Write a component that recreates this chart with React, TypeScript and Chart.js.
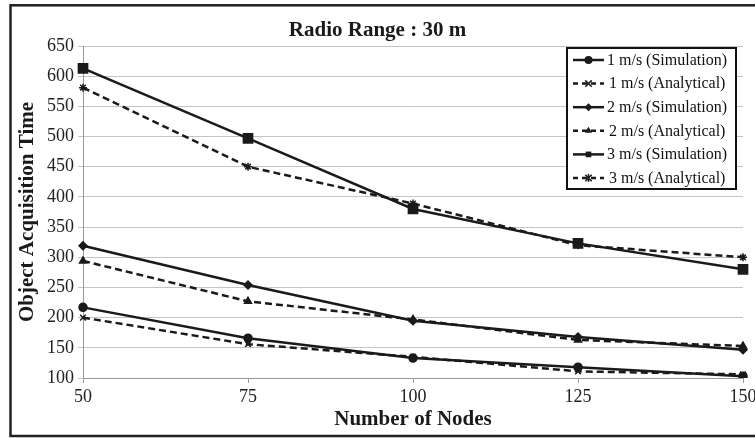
import React, { useEffect, useRef } from 'react';
import { Chart, registerables } from 'chart.js';

Chart.register(...registerables);

// ---- data ----
const nodeCounts = ['50', '75', '100', '125', '150'];
const sim1 = [217, 166, 133, 118, 103];
const ana1 = [200, 156, 135, 111, 106];
const sim2 = [319, 254, 195, 168, 147];
const ana2 = [294, 227, 197, 163, 153];
const sim3 = [613, 497, 380, 323, 280];
const ana3 = [581, 450, 389, 320, 300];
const seriesLabels = [
  '1 m/s (Simulation)',
  '1 m/s (Analytical)',
  '2 m/s (Simulation)',
  '2 m/s (Analytical)',
  '3 m/s (Simulation)',
  '3 m/s (Analytical)',
];
const yMin = 100;
const yMax = 650;
const yStep = 50;
const chartTitle = 'Radio Range : 30 m';
const xTitle = 'Number of Nodes';
const yTitle = 'Object Acquisition Time';

const FONT = "'Liberation Serif', 'Times New Roman', serif";
const INK = '#1a1a1a';

function drawMarker(ctx: CanvasRenderingContext2D, style: string, x: number, y: number, r: number) {
  ctx.save();
  ctx.fillStyle = INK;
  ctx.strokeStyle = INK;
  ctx.lineWidth = 1.5;
  ctx.setLineDash([]);
  ctx.beginPath();
  switch (style) {
    case 'circle':
      ctx.arc(x, y, r, 0, Math.PI * 2);
      ctx.fill();
      break;
    case 'rect': {
      const s = r * Math.SQRT1_2;
      ctx.fillRect(x - s, y - s, 2 * s, 2 * s);
      break;
    }
    case 'rectRot':
      ctx.moveTo(x, y - r);
      ctx.lineTo(x + r, y);
      ctx.lineTo(x, y + r);
      ctx.lineTo(x - r, y);
      ctx.closePath();
      ctx.fill();
      break;
    case 'triangle': {
      const h = r * 1.5;
      ctx.moveTo(x, y - r);
      ctx.lineTo(x + h * 0.577, y + r * 0.5);
      ctx.lineTo(x - h * 0.577, y + r * 0.5);
      ctx.closePath();
      ctx.fill();
      break;
    }
    case 'crossRot': {
      const d = r * 0.8;
      ctx.moveTo(x - d, y - d);
      ctx.lineTo(x + d, y + d);
      ctx.moveTo(x + d, y - d);
      ctx.lineTo(x - d, y + d);
      ctx.stroke();
      break;
    }
    case 'star': {
      const d = r * 0.8;
      ctx.moveTo(x - d, y - d);
      ctx.lineTo(x + d, y + d);
      ctx.moveTo(x + d, y - d);
      ctx.lineTo(x - d, y + d);
      ctx.moveTo(x, y - r);
      ctx.lineTo(x, y + r);
      ctx.stroke();
      break;
    }
  }
  ctx.restore();
}

const framePlugin = {
  id: 'frame',
  afterDraw(chart: any) {
    const ctx = chart.ctx as CanvasRenderingContext2D;
    ctx.save();
    ctx.strokeStyle = '#222';
    ctx.lineWidth = 2.5;
    ctx.strokeRect(10.5, 5.3, 800, 430.7);
    ctx.restore();
  },
};

const insideLegend = {
  id: 'insideLegend',
  afterDraw(chart: any) {
    const ctx = chart.ctx as CanvasRenderingContext2D;
    const area = chart.chartArea;
    const w = 169;
    const h = 141;
    const x0 = area.right - 176;
    const y0 = area.top + 2;
    ctx.save();
    ctx.fillStyle = '#fff';
    ctx.fillRect(x0, y0, w, h);
    ctx.lineWidth = 2;
    ctx.strokeStyle = '#111';
    ctx.setLineDash([]);
    ctx.strokeRect(x0, y0, w, h);
    ctx.font = `16px ${FONT}`;
    ctx.textBaseline = 'middle';
    ctx.textAlign = 'left';
    const rowH = 23.6;
    chart.data.datasets.forEach((ds: any, i: number) => {
      const cy = y0 + 12 + i * rowH;
      const dashed = Array.isArray(ds.borderDash) && ds.borderDash.length > 0;
      ctx.beginPath();
      ctx.strokeStyle = INK;
      ctx.lineWidth = 2.5;
      ctx.setLineDash(dashed ? [5, 4] : []);
      ctx.moveTo(x0 + 6, cy);
      ctx.lineTo(x0 + 37, cy);
      ctx.stroke();
      ctx.setLineDash([]);
      drawMarker(ctx, ds.pointStyle, x0 + 21.5, cy, Math.min(ds.pointRadius, 4));
      ctx.fillStyle = '#111';
      ctx.fillText(ds.label, x0 + (dashed ? 42 : 40), cy + 0.5);
    });
    ctx.restore();
  },
};

function makeSeries(label: string, data: number[], dashed: boolean, pointStyle: string, radius: number) {
  return {
    label,
    data,
    borderColor: INK,
    backgroundColor: INK,
    borderWidth: 2.5,
    borderDash: dashed ? [7, 4] : [],
    pointStyle,
    pointRadius: radius,
    pointBorderWidth: 1.5,
    pointBackgroundColor: INK,
    pointBorderColor: INK,
    tension: 0,
    fill: false,
  };
}

export default function App() {
  const canvasRef = useRef<HTMLCanvasElement | null>(null);

  useEffect(() => {
    if (!canvasRef.current) return;
    const chart = new Chart(canvasRef.current, {
      type: 'line',
      data: {
        labels: nodeCounts,
        datasets: [
          makeSeries(seriesLabels[0], sim1, false, 'circle', 4),
          makeSeries(seriesLabels[1], ana1, true, 'crossRot', 4),
          makeSeries(seriesLabels[2], sim2, false, 'rectRot', 4),
          makeSeries(seriesLabels[3], ana2, true, 'triangle', 4),
          makeSeries(seriesLabels[4], sim3, false, 'rect', 6.5),
          makeSeries(seriesLabels[5], ana3, true, 'star', 4),
        ] as any,
      },
      options: {
        responsive: false,
        animation: false,
        devicePixelRatio: 1,
        layout: { padding: { left: 12, right: 12, top: 8, bottom: 0 } },
        plugins: {
          legend: { display: false },
          tooltip: { enabled: false },
          title: {
            display: true,
            text: chartTitle,
            color: '#1a1a1a',
            font: { family: FONT, size: 21, weight: 'bold' },
            padding: { top: 10.4, bottom: 2.4 },
          },
        },
        scales: {
          x: {
            type: 'category',
            offset: false,
            grid: {
              display: true,
              drawOnChartArea: false,
              drawTicks: true,
              tickLength: 5,
              color: '#999',
            },
            border: { display: true, color: '#999', width: 1 },
            ticks: {
              color: '#222',
              font: { family: FONT, size: 18 },
              padding: 3,
              maxRotation: 0,
              autoSkip: false,
            },
            title: {
              display: true,
              text: xTitle,
              color: '#1a1a1a',
              font: { family: FONT, size: 21, weight: 'bold' },
              padding: { top: 0, bottom: 5.4 },
            },
            afterFit(scale: any) {
              scale.height = 60;
              scale.paddingRight = 0;
              scale.paddingLeft = 0;
            },
          },
          y: {
            type: 'linear',
            min: yMin,
            max: yMax,
            grid: {
              display: true,
              drawOnChartArea: true,
              drawTicks: true,
              tickLength: 5,
              color: '#c4c4c4',
            },
            border: { display: true, color: '#999', width: 1 },
            ticks: {
              stepSize: yStep,
              color: '#222',
              font: { family: FONT, size: 18 },
              padding: 4,
            },
            title: {
              display: true,
              text: yTitle,
              color: '#1a1a1a',
              font: { family: FONT, size: 21, weight: 'bold' },
              padding: { top: 3.4, bottom: 0 },
            },
            afterFit(scale: any) {
              scale.width = 71;
            },
          },
        },
      } as any,
      plugins: [insideLegend, framePlugin],
    });
    return () => chart.destroy();
  }, []);

  return (
    <div style={{ position: 'fixed', left: 0, top: 0, width: 755, height: 438, background: '#fff' }}>
      <canvas ref={canvasRef} width={755} height={438} style={{ display: 'block', width: 755, height: 438 }} />
    </div>
  );
}
